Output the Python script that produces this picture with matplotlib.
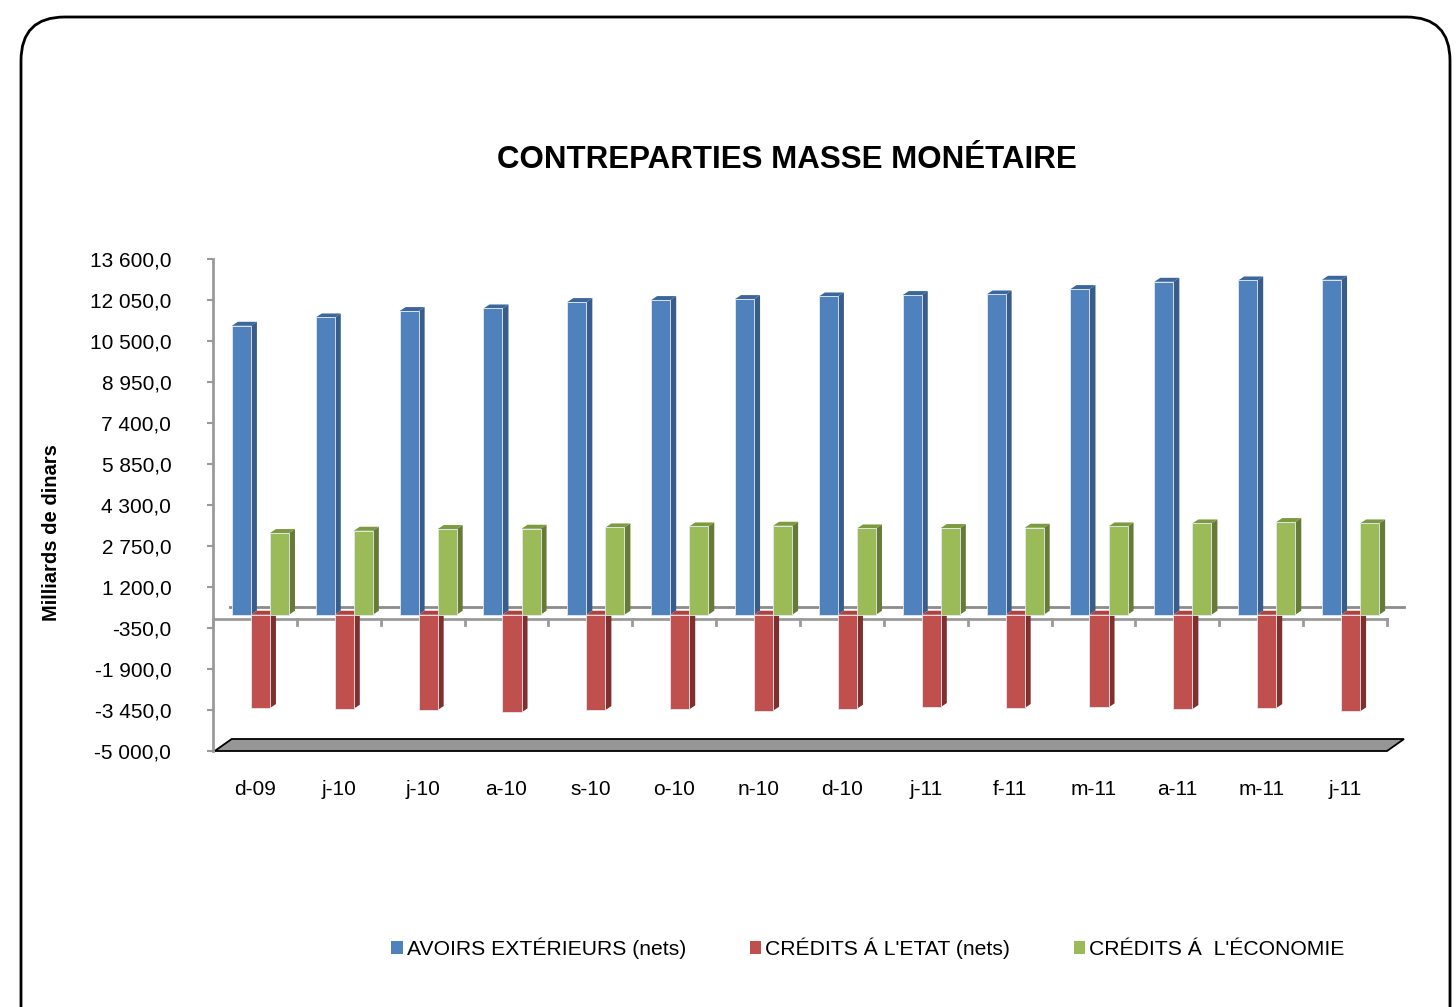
import matplotlib

matplotlib.use("Agg")
import matplotlib.pyplot as plt
import numpy as np
from matplotlib.patches import FancyBboxPatch, Polygon, Rectangle

plt.rcParams["font.family"] = ["Liberation Sans", "DejaVu Sans"]

# data (milliards de dinars)
months = ["d-09", "j-10", "j-10", "a-10", "s-10", "o-10", "n-10",
          "d-10", "j-11", "f-11", "m-11", "a-11", "m-11", "j-11"]
avoirs_ext = [10924, 11238, 11480, 11578, 11820, 11896, 11933,
              12032, 12085, 12107, 12311, 12587, 12637, 12663]
credits_etat = [-3528, -3553, -3604, -3692, -3604, -3578, -3629,
                -3553, -3490, -3528, -3503, -3566, -3528, -3654]
credits_eco = [3088, 3175, 3239, 3251, 3300, 3338, 3364,
               3262, 3277, 3289, 3338, 3451, 3504, 3451]

series = [
    ("AVOIRS EXTÉRIEURS (nets)", avoirs_ext, "#4f81bd", "#385d8a", "#3b679c"),
    ("CRÉDITS Á L'ETAT (nets)", credits_etat, "#c0504d", "#7f302e", "#b0413e"),
    ("CRÉDITS Á  L'ÉCONOMIE", credits_eco, "#9bbb59", "#677b39", "#7c9a40"),
]
yticks = np.arange(-5000, 13601, 1550)

W, H = 1456, 1007
fig = plt.figure(figsize=(W / 100, H / 100), dpi=100)

# plot area in pixels (front plane)
left_px, right_px, top_px, bottom_px = 213, 1387, 259, 751
ax = fig.add_axes([left_px / W, 1 - bottom_px / H,
                   (right_px - left_px) / W, (bottom_px - top_px) / H])
n = len(months)
ax.set_xlim(0, n)
ax.set_ylim(yticks[0], yticks[-1])

ux = n / (right_px - left_px)          # data x per pixel
uy = (yticks[-1] - yticks[0]) / (bottom_px - top_px)  # data y per pixel

# depth offsets (pixels)
face_dx, face_dy = 5.5 * ux, 4 * uy     # front face of bars
bar_dx, bar_dy = 6 * ux, 4 * uy         # bar depth
wall_dx, wall_dy = 17 * ux, 12 * uy     # back wall / floor

# floor
ymin = yticks[0]
floor = Polygon([(0.02, ymin), (n, ymin), (n + wall_dx, ymin + wall_dy),
                 (0.02 + wall_dx, ymin + wall_dy)],
                closed=True, facecolor="#969696", edgecolor="black", lw=1.3,
                zorder=1, clip_on=False)
ax.add_patch(floor)

# back zero line
ax.plot([wall_dx, n + wall_dx], [wall_dy, wall_dy], color="#8c8c8c", lw=2,
        zorder=1, clip_on=False)
# front category axis
ax.plot([0, n], [0, 0], color="#9a9a9a", lw=2, zorder=1, clip_on=False)
for k in range(n + 1):
    ax.plot([k, k], [0, -6 * uy], color="#9a9a9a", lw=2, zorder=1, clip_on=False)

bw = 0.227
handles = []
for s, (name, vals, c_front, c_side, c_top) in enumerate(series):
    for i, v in enumerate(vals):
        x0 = i + 0.5 + (s - 1.5) * bw + face_dx
        x1 = x0 + bw
        y0 = face_dy
        y1 = face_dy + v
        ytop = max(y0, y1)
        ylo = min(y0, y1)
        side = Polygon([(x1, ylo), (x1, ytop), (x1 + bar_dx, ytop + bar_dy),
                        (x1 + bar_dx, ylo + bar_dy)], closed=True,
                       facecolor=c_side, edgecolor="none", zorder=2)
        top = Polygon([(x0, ytop), (x1, ytop), (x1 + bar_dx, ytop + bar_dy),
                       (x0 + bar_dx, ytop + bar_dy)], closed=True,
                      facecolor=c_top, edgecolor="none", zorder=2)
        front = Rectangle((x0, ylo), bw, ytop - ylo, facecolor=c_front,
                          edgecolor="#e4e9f2", lw=0.6, zorder=3)
        ax.add_patch(side)
        ax.add_patch(top)
        ax.add_patch(front)
    handles.append(Rectangle((0, 0), 1, 1, facecolor=c_front, edgecolor="none",
                             label=name))

for sp in ["top", "right", "bottom"]:
    ax.spines[sp].set_visible(False)
ax.spines["left"].set_color("#9a9a9a")
ax.spines["left"].set_linewidth(2)

ax.set_yticks(yticks)
ax.set_yticklabels([f"{v:,.1f}".replace(",", " ").replace(".", ",") for v in yticks])
ax.tick_params(axis="y", length=4, width=1.5, color="#9a9a9a", pad=26,
               labelsize=15)
ax.set_xticks(np.arange(n) + 0.5)
ax.set_xticklabels(months)
ax.tick_params(axis="x", length=0, pad=21, labelsize=15)

fig.text(787 / W, 1 - 160 / H, "CONTREPARTIES MASSE MONÉTAIRE",
         ha="center", va="center", fontsize=22.5, fontweight="bold")
fig.text(52 / W, 1 - 533 / H, "Milliards de dinars", rotation=90,
         ha="center", va="center", fontsize=14.5, fontweight="bold")

fig.legend(handles=handles, loc="center", bbox_to_anchor=(868 / W, 1 - 948 / H),
           ncol=3, frameon=False, fontsize=15.2, handlelength=0.55,
           handleheight=0.55, handletextpad=0.2, columnspacing=3.0)

border = FancyBboxPatch((21 / W, -0.05), 1429 / W, 1 - 17 / H + 0.05,
                        boxstyle="round,pad=0,rounding_size=0.03",
                        transform=fig.transFigure, facecolor="none",
                        edgecolor="black", lw=2, mutation_aspect=W / H)
fig.patches.append(border)

fig.savefig("out.png", dpi=100)
